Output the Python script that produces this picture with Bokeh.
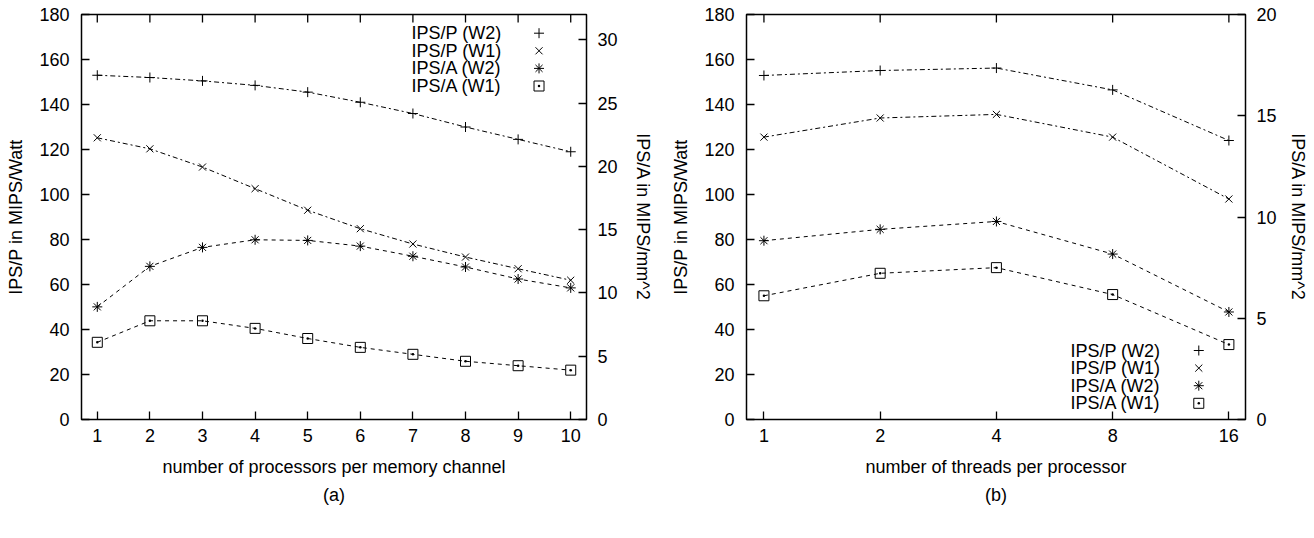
import numpy as np
from bokeh.plotting import figure
from bokeh.models import Range1d, LinearAxis, FixedTicker, Title, BasicTickFormatter
from bokeh.layouts import row
from bokeh.embed import file_html
from bokeh.resources import INLINE
from bokeh.core.properties import value

# ---------------- data ----------------
procs = [1, 2, 3, 4, 5, 6, 7, 8, 9, 10]
a_ipsp_w2 = [153, 152, 150.5, 148.5, 145.5, 141, 136, 130, 124.5, 119]
a_ipsp_w1 = [125.2, 120.3, 112.2, 102.6, 93, 84.8, 78, 72.2, 67, 61.9]
a_ipsa_w2 = [8.9, 12.1, 13.6, 14.2, 14.15, 13.7, 12.9, 12.05, 11.1, 10.4]
a_ipsa_w1 = [6.1, 7.8, 7.8, 7.2, 6.4, 5.7, 5.15, 4.6, 4.25, 3.9]

threads = [1, 2, 4, 8, 16]
b_ipsp_w2 = [152.9, 155.1, 156.2, 146.5, 124]
b_ipsp_w1 = [125.5, 134, 135.6, 125.5, 98]
b_ipsa_w2 = [8.83, 9.39, 9.78, 8.17, 5.31]
b_ipsa_w1 = [6.11, 7.22, 7.5, 6.17, 3.7]

legend_labels = ["IPS/P (W2)", "IPS/P (W1)", "IPS/A (W2)", "IPS/A (W1)"]
markers = ["cross", "x", "asterisk", "square_dot"]
dashes = ["5 3 2 3", "5 3 2 3", "4 4", "4 4"]
on_right = [False, False, True, True]

y_left_ticks = [0, 20, 40, 60, 80, 100, 120, 140, 160, 180]
a_y2_ticks = [0, 5, 10, 15, 20, 25, 30]
b_y2_ticks = [0, 5, 10, 15, 20]

FONT = "Liberation Sans"
FS = "18px"
H = 530
MBT = 14
MBB = 111


def style_axis(ax):
    ax.axis_line_color = None
    ax.major_tick_in = 8
    ax.major_tick_out = 0
    ax.major_tick_line_color = "black"
    ax.major_tick_line_width = 1.3
    ax.minor_tick_line_color = None
    ax.major_label_text_font = FONT
    ax.major_label_text_font_size = FS
    ax.major_label_text_color = "black"
    ax.axis_label_text_font = FONT
    ax.axis_label_text_font_size = FS
    ax.axis_label_text_font_style = "normal"
    ax.axis_label_text_color = "black"


def make_panel(xs, series, x_type, x_range, xticks, xlabel, y2max, y2ticks,
               caption, width, mbl, mbr, y2_standoff, legend_top, legend_frac):
    p = figure(width=width, height=H, x_axis_type=x_type, x_range=x_range,
               y_range=Range1d(0, 180), output_backend="svg",
               toolbar_location=None, min_border_left=mbl,
               min_border_right=mbr, min_border_top=MBT, min_border_bottom=MBB,
               x_axis_label=xlabel, y_axis_label="IPS/P in MIPS/Watt")
    p.extra_y_ranges = {"a": Range1d(0, y2max)}
    p.xgrid.visible = False
    p.ygrid.visible = False
    p.outline_line_color = "black"
    p.outline_line_width = 1.5
    p.outline_line_alpha = 1
    p.background_fill_color = "white"
    p.border_fill_color = "white"

    p.xaxis.ticker = FixedTicker(ticks=xticks)
    p.xaxis.formatter = BasicTickFormatter()
    p.yaxis.ticker = FixedTicker(ticks=y_left_ticks)
    style_axis(p.xaxis[0])
    style_axis(p.yaxis[0])
    p.xaxis.major_label_standoff = 9
    p.xaxis.axis_label_standoff = 12
    p.yaxis.major_label_standoff = 12
    p.yaxis.axis_label_standoff = 10

    right = LinearAxis(y_range_name="a", ticker=FixedTicker(ticks=y2ticks),
                       axis_label="IPS/A in MIPS/mm^2")
    style_axis(right)
    right.major_label_standoff = 11
    right.axis_label_standoff = y2_standoff
    p.add_layout(right, "right")

    cap = Title(text=caption, align="center", text_font=FONT,
                text_font_size=FS, text_font_style="normal",
                text_color="black", standoff=6)
    p.add_layout(cap, "below")

    fh_px = H - MBT - MBB
    # mirrored x ticks on the top border (gnuplot style)
    tick_len = 8 / fh_px * 180
    p.segment(x0=xticks, y0=[180] * len(xticks), x1=xticks,
              y1=[180 - tick_len] * len(xticks), line_color="black",
              line_width=1.3)

    for ys, mk, dash, r in zip(series, markers, dashes, on_right):
        kw = {"y_range_name": "a"} if r else {}
        p.line(xs, ys, line_color="black", line_width=1, line_dash=dash, **kw)
        p.scatter(xs, ys, marker=mk, size=10, line_color="black",
                  fill_color=None, line_width=1, **kw)

    # legend (gnuplot style: right aligned text, symbol on the right)
    x0, x1 = x_range.start, x_range.end
    if x_type == "log":
        lx0, lx1 = np.log2(x0), np.log2(x1)
        tx = 2 ** (lx0 + legend_frac[0] * (lx1 - lx0))
        sx = 2 ** (lx0 + legend_frac[1] * (lx1 - lx0))
    else:
        tx = x0 + legend_frac[0] * (x1 - x0)
        sx = x0 + legend_frac[1] * (x1 - x0)
    ly = [180 - (legend_top + i * 17.6) / fh_px * 180 for i in range(4)]
    p.text(x=[tx] * 4, y=ly, text=legend_labels, text_align="right",
           text_baseline="middle", text_font=value(FONT),
           text_font_size=value(FS), text_color="black")
    for i, mk in enumerate(markers):
        p.scatter([sx], [ly[i]], marker=mk, size=10, line_color="black",
                  fill_color=None, line_width=1)
    return p


pa = make_panel(procs, [a_ipsp_w2, a_ipsp_w1, a_ipsa_w2, a_ipsa_w1],
                "linear", Range1d(0.7, 10.3), procs,
                "number of processors per memory channel", 32, a_y2_ticks,
                "(a)", 660, 81, 74, 12, 18.7, (0.8317, 0.906))

pb = make_panel(threads, [b_ipsp_w2, b_ipsp_w1, b_ipsa_w2, b_ipsa_w1],
                "log", Range1d(2 ** -0.15, 2 ** 4.143), threads,
                "number of threads per processor", 20, b_y2_ticks,
                "(b)", 650, 86, 60, 8, 336.0, (0.8295, 0.9064))

layout = row(pa, pb)
open("out.html", "w").write(file_html(layout, INLINE))
